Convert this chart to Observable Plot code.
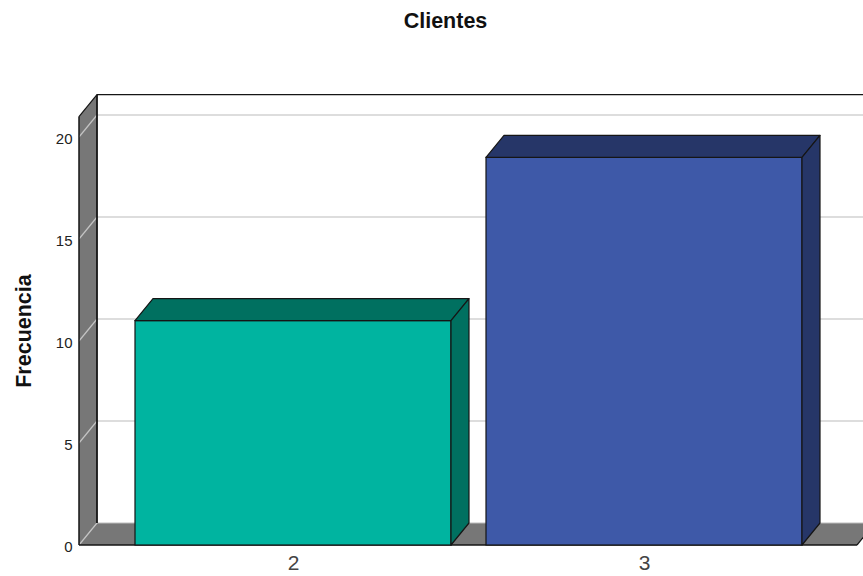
<!DOCTYPE html>
<html><head><meta charset="utf-8">
<script src="https://cdn.jsdelivr.net/npm/d3@7"></script>
<script src="https://cdn.jsdelivr.net/npm/@observablehq/plot@0.6"></script>
<style>html,body{margin:0;padding:0;background:#fff;overflow:hidden} svg{display:block}</style>
</head><body><div id="chart"></div>
<script>
const title = "Clientes";
const yLabel = "Frecuencia";
const categories = ["2", "3"];
const frequencies = [11, 19];
const yTicks = [0, 5, 10, 15, 20];
const frontColors = ["#00b4a0", "#3e59a8"];
const sideColors = ["#007060", "#263668"];
const data = categories.map((c, i) => ({category: c, frequency: frequencies[i], front: frontColors[i], side: sideColors[i]}));

const W = 863, H = 576;
const DX = 18, DY = -22;      // 3D depth offset (pixels)
const WALL_TOP = 21;          // wall height in data units
const EDGE = "#151515", WALL = "#777777", GRID = "#d2d2d2";
const svgNS = "http://www.w3.org/2000/svg";
function el(tag, attrs) { const e = document.createElementNS(svgNS, tag); for (const k in attrs) e.setAttribute(k, attrs[k]); return e; }
function poly(pts, fill, stroke) {
  const a = {points: pts.map(p => p.join(",")).join(" "), fill};
  if (stroke) { a.stroke = stroke; a["stroke-width"] = 1.2; a["stroke-linejoin"] = "round"; }
  return el("polygon", a);
}
function line(x1, y1, x2, y2, stroke, w) { return el("line", {x1, y1, x2, y2, stroke, "stroke-width": w}); }

function walls(index, scales, values, dims) {
  const y = scales.y;
  const x0 = dims.marginLeft, x1 = dims.width - dims.marginRight;
  const g = el("g", {});
  const yb = y(0), yt = y(WALL_TOP);
  // grid on back wall
  for (const v of yTicks) if (v > 0) g.append(line(x0 + DX, y(v) + DY, x1 + DX + 60, y(v) + DY, GRID, 1.5));
  // left wall
  g.append(poly([[x0, yt], [x0 + DX, yt + DY], [x0 + DX, yb + DY], [x0, yb]], WALL));
  // floor
  g.append(poly([[x0, yb], [x0 + DX, yb + DY], [x1 + DX, yb + DY], [x1, yb]], WALL));
  // grid diagonals on left wall and floor back edge
  for (const v of yTicks) g.append(line(x0, y(v), x0 + DX, y(v) + DY, "#c4c4c4", 1.2));
  g.append(line(x0 + DX, yb + DY, x1 + DX + 60, yb + DY, "#bdbdbd", 1.2));
  // dark edges
  g.append(line(x0, yt, x0, yb, EDGE, 1.5));
  g.append(line(x0 + DX, yt + DY, x0 + DX, yb + DY, EDGE, 1.8));
  g.append(line(x0, yt, x0 + DX, yt + DY, EDGE, 1.2));
  g.append(line(x0 + DX, yt + DY, x1 + DX + 60, yt + DY, EDGE, 1.2));
  g.append(line(x0, yb, x1, yb, EDGE, 1.5));
  g.append(line(x1, yb, x1 + DX, yb + DY, EDGE, 1.2));
  return g;
}

function bars3d(index, scales) {
  const x = scales.x, y = scales.y;
  const bw = typeof x.bandwidth === "function" ? x.bandwidth() : x.bandwidth;
  const g = el("g", {});
  for (const d of data) {
    const xl = x(d.category), xr = xl + bw, yt = y(d.frequency), yb = y(0);
    g.append(poly([[xl, yt], [xl + DX, yt + DY], [xr + DX, yt + DY], [xr, yt]], d.side, EDGE));
    g.append(poly([[xr, yt], [xr + DX, yt + DY], [xr + DX, yb + DY], [xr, yb]], d.side, EDGE));
  }
  return g;
}

const chart = Plot.plot({
  width: W, height: H,
  marginLeft: 79, marginRight: 6, marginTop: 137, marginBottom: 31,
  style: {fontFamily: "'Liberation Sans', Arial, sans-serif", background: "#fff", overflow: "hidden"},
  x: {domain: categories, paddingInner: 0.1, paddingOuter: 0.158},
  y: {domain: [0, 20]},
  color: {type: "identity"},
  marks: [
    walls,
    Plot.barY(data, {x: "category", y: "frequency", fill: "front", stroke: EDGE, strokeWidth: 1.2}),
    bars3d,
    Plot.axisY(yTicks, {tickSize: 0, tickPadding: 7, fontSize: 15, fill: "#222", label: null, dy: 2}),
    Plot.axisX({tickSize: 0, tickPadding: 10, fontSize: 21, fill: "#444", label: null}),
    Plot.text([title], {text: d => d, frameAnchor: "top", lineAnchor: "middle", dx: -23, dy: -116.5, fontSize: 21.5, fontWeight: "bold", fill: "#111"}),
    Plot.text([yLabel], {text: d => d, frameAnchor: "left", textAnchor: "middle", lineAnchor: "middle", rotate: -90, dx: -55, dy: -10.5, fontSize: 21.5, fontWeight: "bold", fill: "#111"})
  ]
});
document.getElementById("chart").append(chart);
</script>
</body></html>
